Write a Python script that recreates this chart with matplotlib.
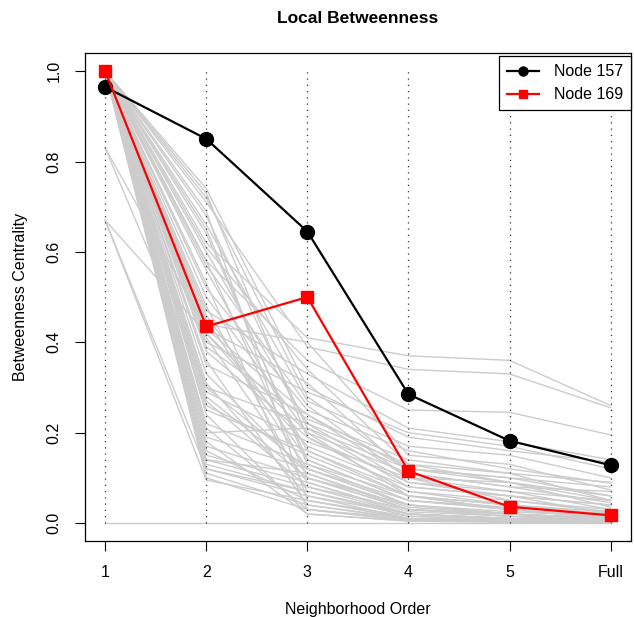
import numpy as np
import matplotlib.pyplot as plt

plt.rcParams['font.family'] = ['Liberation Sans', 'DejaVu Sans']

# orden de vecindad
orders = [1, 2, 3, 4, 5, 6]
order_labels = ["1", "2", "3", "4", "5", "Full"]

# nodos destacados
node157 = [0.965, 0.85, 0.645, 0.285, 0.182, 0.128]
node169 = [1.0, 0.435, 0.50, 0.115, 0.036, 0.017]

# resto de nodos (gris)
others = [
    [1.00, 0.62, 0.41, 0.37, 0.36, 0.26],
    [1.00, 0.71, 0.39, 0.34, 0.33, 0.255],
    [1.00, 0.58, 0.36, 0.25, 0.245, 0.195],
    [1.00, 0.47, 0.33, 0.21, 0.18, 0.14],
    [1.00, 0.74, 0.30, 0.19, 0.16, 0.135],
    [1.00, 0.66, 0.27, 0.17, 0.15, 0.10],
    [1.00, 0.52, 0.25, 0.16, 0.12, 0.088],
    [1.00, 0.44, 0.40, 0.15, 0.13, 0.073],
    [1.00, 0.39, 0.23, 0.14, 0.11, 0.05],
    [1.00, 0.60, 0.22, 0.13, 0.09, 0.035],
    [1.00, 0.68, 0.21, 0.12, 0.10, 0.06],
    [1.00, 0.50, 0.20, 0.11, 0.08, 0.045],
    [1.00, 0.35, 0.24, 0.10, 0.07, 0.03],
    [1.00, 0.73, 0.19, 0.09, 0.06, 0.04],
    [1.00, 0.29, 0.18, 0.10, 0.05, 0.025],
    [1.00, 0.42, 0.17, 0.08, 0.06, 0.02],
    [1.00, 0.56, 0.16, 0.07, 0.04, 0.02],
    [1.00, 0.26, 0.15, 0.06, 0.03, 0.015],
    [1.00, 0.64, 0.14, 0.05, 0.03, 0.01],
    [1.00, 0.22, 0.13, 0.06, 0.04, 0.012],
    [1.00, 0.45, 0.12, 0.04, 0.02, 0.01],
    [1.00, 0.19, 0.12, 0.05, 0.03, 0.015],
    [1.00, 0.33, 0.11, 0.03, 0.02, 0.008],
    [1.00, 0.17, 0.10, 0.04, 0.02, 0.01],
    [1.00, 0.58, 0.10, 0.03, 0.015, 0.005],
    [1.00, 0.15, 0.09, 0.02, 0.01, 0.005],
    [1.00, 0.27, 0.08, 0.03, 0.015, 0.006],
    [1.00, 0.14, 0.08, 0.02, 0.01, 0.004],
    [1.00, 0.48, 0.07, 0.02, 0.01, 0.003],
    [1.00, 0.13, 0.07, 0.015, 0.008, 0.004],
    [1.00, 0.31, 0.06, 0.02, 0.01, 0.005],
    [1.00, 0.12, 0.06, 0.01, 0.005, 0.002],
    [1.00, 0.69, 0.05, 0.015, 0.008, 0.003],
    [1.00, 0.16, 0.05, 0.01, 0.006, 0.002],
    [1.00, 0.11, 0.04, 0.01, 0.005, 0.002],
    [1.00, 0.36, 0.04, 0.008, 0.004, 0.001],
    [1.00, 0.21, 0.03, 0.006, 0.003, 0.001],
    [1.00, 0.10, 0.03, 0.005, 0.003, 0.001],
    [1.00, 0.53, 0.03, 0.01, 0.005, 0.002],
    [1.00, 0.18, 0.02, 0.004, 0.002, 0.001],
    [1.00, 0.24, 0.02, 0.005, 0.002, 0.001],
    [1.00, 0.40, 0.29, 0.20, 0.17, 0.12],
    [1.00, 0.61, 0.34, 0.13, 0.11, 0.09],
    [1.00, 0.43, 0.31, 0.11, 0.08, 0.07],
    [1.00, 0.72, 0.28, 0.12, 0.10, 0.08],
    [1.00, 0.57, 0.26, 0.10, 0.09, 0.06],
    [1.00, 0.30, 0.22, 0.09, 0.07, 0.05],
    [1.00, 0.20, 0.21, 0.08, 0.06, 0.04],
    [1.00, 0.38, 0.19, 0.07, 0.05, 0.03],
    [1.00, 0.25, 0.16, 0.06, 0.04, 0.025],
    [1.00, 0.46, 0.14, 0.05, 0.035, 0.02],
    [1.00, 0.65, 0.13, 0.04, 0.025, 0.015],
    [1.00, 0.14, 0.11, 0.035, 0.02, 0.01],
    [1.00, 0.41, 0.09, 0.025, 0.015, 0.008],
    [1.00, 0.28, 0.10, 0.03, 0.02, 0.01],
    [0.83, 0.43, 0.24, 0.12, 0.09, 0.05],
    [0.83, 0.30, 0.12, 0.04, 0.02, 0.01],
    [0.67, 0.095, 0.05, 0.01, 0.005, 0.002],
    [0.67, 0.42, 0.20, 0.06, 0.03, 0.01],
    [0.67, 0.12, 0.07, 0.02, 0.01, 0.004],
    [0.00, 0.00, 0.00, 0.00, 0.00, 0.00],
]

fig = plt.figure(figsize=(6.34, 6.17), dpi=100)
ax = fig.add_axes([0.134, 0.123, 0.861, 0.791])

for row in others:
    ax.plot(orders, row, color="#cccccc", lw=1, zorder=1)

# lineas verticales punteadas
for x in orders:
    ax.plot([x, x], [0, 1], color="#333333", lw=0.9, ls=(0, (1, 4)), zorder=2)

ax.plot(orders, node157, color="black", lw=1.6, marker="o", ms=10,
        label="Node 157", zorder=3)
ax.plot(orders, node169, color="red", lw=1.6, marker="s", ms=8.5,
        label="Node 169", zorder=4)

ax.set_xlim(0.8, 6.2)
ax.set_ylim(-0.04, 1.04)
ax.set_xticks(orders)
ax.set_xticklabels(order_labels)
ax.set_yticks([0, 0.2, 0.4, 0.6, 0.8, 1.0])
ax.set_yticklabels(["0.0", "0.2", "0.4", "0.6", "0.8", "1.0"], rotation=90, va="center")
ax.tick_params(labelsize=11.5, length=7, width=0.8, direction="out", pad=10)
for s in ax.spines.values():
    s.set_linewidth(0.9)

ax.set_title("Local Betweenness", fontsize=12.5, fontweight="bold", pad=22)
ax.set_xlabel("Neighborhood Order", fontsize=11.5)
ax.set_ylabel("Betweenness Centrality", fontsize=11.5)
ax.xaxis.set_label_coords(0.5, -0.125)
ax.yaxis.set_label_coords(-0.105, 0.5)

leg = ax.legend(loc="upper right", bbox_to_anchor=(1.0, 0.993), fontsize=11.5,
                fancybox=False, framealpha=1, edgecolor="black",
                borderaxespad=0, handlelength=2.0, borderpad=0.5,
                markerscale=0.65, handletextpad=0.9)
leg.get_frame().set_linewidth(0.9)

plt.savefig("out.png", dpi=100)
